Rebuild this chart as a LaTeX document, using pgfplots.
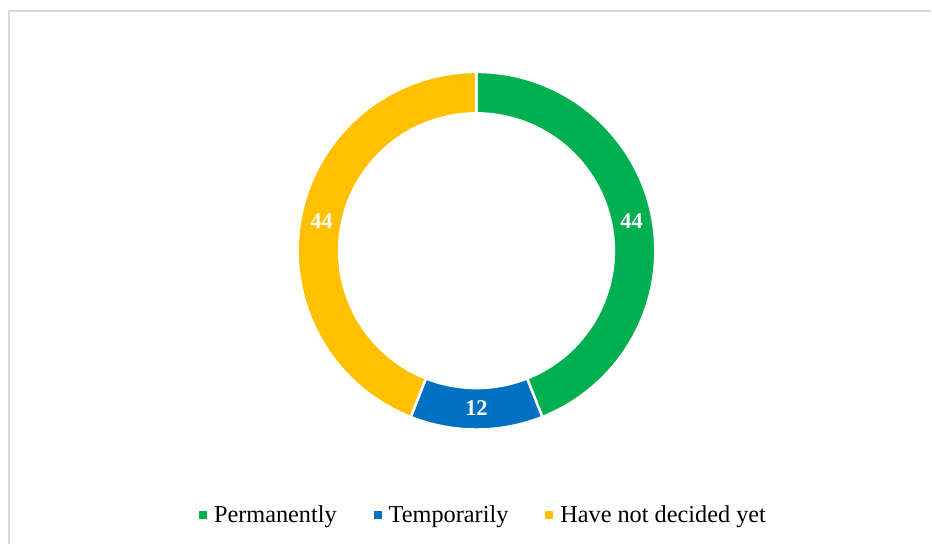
\documentclass[border=0pt]{standalone}
\usepackage{pgfplots}
\pgfplotsset{compat=1.18}
\usepackage{pgfplotstable}
\usepackage{fontspec}
\setmainfont{Liberation Serif}

\definecolor{cgreen}{HTML}{00B050}
\definecolor{cblue}{HTML}{0070C0}
\definecolor{cyellow}{HTML}{FFC000}
\definecolor{framegray}{HTML}{D9D9D9}

% shares (%)
\pgfplotstableread{
label value
Permanently 44
Temporarily 12
Undecided 44
}\shares

\pgfplotstablegetelem{0}{value}\of\shares \let\va\pgfplotsretval
\pgfplotstablegetelem{1}{value}\of\shares \let\vb\pgfplotsretval
\pgfplotstablegetelem{2}{value}\of\shares \let\vc\pgfplotsretval

\pgfmathsetmacro\total{\va+\vb+\vc}
\pgfmathsetmacro\aA{90}
\pgfmathsetmacro\aB{\aA-360*\va/\total}
\pgfmathsetmacro\aC{\aB-360*\vb/\total}
\pgfmathsetmacro\aD{\aC-360*\vc/\total}

% ring geometry (axis units = bp)
\def\cx{477}
\def\cy{294}
\def\ro{179}
\def\ri{137.5}
\def\rm{158}

% colour, start angle, end angle, label
\newcommand\ringpart[4]{%
  \fill[#1, draw=white, line width=2.5bp]
    (axis cs:{\cx+\ro*cos(#2)},{\cy+\ro*sin(#2)})
    arc[start angle=#2, end angle=#3, radius=\ro]
    -- (axis cs:{\cx+\ri*cos(#3)},{\cy+\ri*sin(#3)})
    arc[start angle=#3, end angle=#2, radius=\ri] -- cycle;
  \node[text=white, font=\fontsize{22.5}{22.5}\selectfont\bfseries]
    at (axis cs:{\cx+\rm*cos((#2+#3)/2)},{\cy+\rm*sin((#2+#3)/2)}) {#4};
}

\begin{document}
\begin{tikzpicture}
\path (0,0) rectangle (932bp,545bp);
\begin{axis}[
    at={(0,0)}, anchor=south west,
    scale only axis,
    width=932bp, height=545bp,
    xmin=0, xmax=932, ymin=0, ymax=545,
    hide axis,
    clip=false,
    legend columns=-1,
    legend style={
        at={(axis cs:483,29.5)}, anchor=center,
        draw=none, fill=none,
        font=\fontsize{24.4}{28}\selectfont,
        nodes={inner sep=0pt},
        /tikz/every odd column/.append style={column sep=7bp},
        /tikz/every even column/.append style={column sep=37bp},
    },
    legend image code/.code={\path[#1] (0bp,-4bp) rectangle (8bp,4bp);},
  ]
  \draw[framegray, line width=2bp] (axis cs:9,0) -- (axis cs:9,534) -- (axis cs:932,534);

  \ringpart{cgreen}{\aA}{\aB}{\va}
  \ringpart{cblue}{\aB}{\aC}{\vb}
  \ringpart{cyellow}{\aC}{\aD}{\vc}

  \addlegendimage{fill=cgreen, draw=none}
  \addlegendentry{Permanently}
  \addlegendimage{fill=cblue, draw=none}
  \addlegendentry{Temporarily}
  \addlegendimage{fill=cyellow, draw=none}
  \addlegendentry{Have not decided yet}
\end{axis}
\end{tikzpicture}
\end{document}
